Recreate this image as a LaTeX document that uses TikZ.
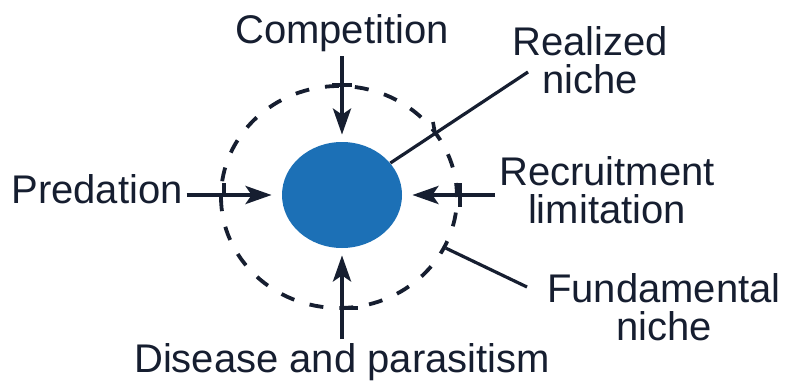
\documentclass[tikz,border=0pt]{standalone}
\usepackage{fontspec}
\setmainfont{Liberation Sans}
\usetikzlibrary{shapes.geometric,arrows.meta}
\definecolor{ink}{RGB}{22,30,48}
\definecolor{nicheblue}{RGB}{28,112,182}
\begin{document}
\begin{tikzpicture}[x=0.5pt,y=-0.5pt,
  lbl/.style={text=ink,font=\fontsize{20}{19}\selectfont,align=center,inner sep=0pt,outer sep=2pt},
  push/.style={draw=ink,line width=2pt,-{Stealth[length=13pt,width=9pt,inset=3pt]}},
  lead/.style={draw=ink,line width=1.6pt},
  tickmark/.style={draw=ink,line width=1.8pt}]
\useasboundingbox[fill=white] (0,0) rectangle (791,385);
% niches
\node[ellipse,draw=ink,line width=1.9pt,dash pattern=on 7pt off 8pt,
      minimum width=118pt,minimum height=111pt,inner sep=0pt] (fundc) at (339,197) {};
\node[ellipse,fill=nicheblue,minimum width=60pt,minimum height=53pt,inner sep=0pt] (blue) at (342,195) {};
% labels
\node[lbl,anchor=base] (comp) at (342,44) {Competition};
\node[lbl,anchor=base] (pred) at (97,203) {Predation};
\node[lbl,anchor=base] (dis) at (342,372) {Disease and parasitism};
\node[lbl] (rec) at (607,190) {Recruitment\\limitation};
\node[lbl] (real) at (590,60) {Realized\\niche};
\node[lbl] (fund) at (664,307) {Fundamental\\niche};
\coordinate (rtip) at (528,72);
\coordinate (ftip) at (527,287);
% arrows
\draw[push,shorten >=3.5pt] (comp.south) -- (comp.south |- blue.north);
\draw[push,shorten >=5pt] (pred.east |- blue) -- (blue);
\draw[push,shorten >=5pt] (rec.west |- blue) -- (blue);
\draw[push,shorten >=3.5pt] (dis.north) -- (dis.north |- blue.south);
\draw[lead] (blue) -- (rtip);
\draw[lead] (fundc) -- (ftip);
% crossing ticks
\draw[tickmark] (332,85) -- (352,85);
\draw[tickmark] (224,183) -- (224,195);
\draw[tickmark] (460,183) -- (460,207);
\draw[tickmark] (342,308) -- (358,308);
\draw[tickmark] (433,122) -- (435,133);
\end{tikzpicture}
\end{document}
